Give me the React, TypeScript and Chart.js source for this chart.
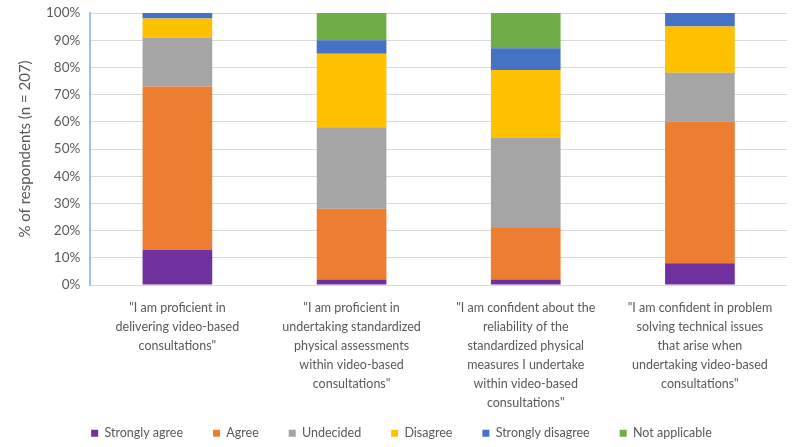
import React, { useEffect, useRef } from "react";
import { Chart, registerables } from "chart.js";

Chart.register(...registerables);

const categories: string[][] = [
  ['"I am proficient in', "delivering video-based", 'consultations"'],
  ['"I am proficient in', "undertaking standardized", "physical assessments", "within video-based", 'consultations"'],
  ['"I am confident about the', "reliability of the", "standardized physical", "measures I undertake", "within video-based", 'consultations"'],
  ['"I am confident in problem', "solving technical issues", "that arise when", "undertaking video-based", 'consultations"'],
];

const seriesNames = ["Strongly agree", "Agree", "Undecided", "Disagree", "Strongly disagree", "Not applicable"];
const stronglyAgree = [13, 2, 2, 8];
const agree = [60, 26, 19, 52];
const undecided = [18, 30, 33, 18];
const disagree = [7, 27, 25, 17];
const stronglyDisagree = [2, 5, 8, 5];
const notApplicable = [0, 10, 13, 0];
const yTicks = [0, 10, 20, 30, 40, 50, 60, 70, 80, 90, 100];

const colors = ["#7030a0", "#ed7d31", "#a5a5a5", "#ffc000", "#4472c4", "#70ad47"];
const FONT = "Lato, sans-serif";

const LEGEND_PAD = 30;
const LEGEND_SPACE = 30;
const LEGEND_SHIFT = 20;

const legendFix = {
  id: "legendFix",
  beforeLayout(chart: any) {
    const lg = chart.legend;
    if (lg && !lg._patched) {
      const orig = lg.fit.bind(lg);
      lg.fit = function () {
        orig();
        this.height = LEGEND_SPACE;
      };
      lg._patched = true;
    }
  },
  afterLayout(chart: any) {
    const lg = chart.legend;
    if (lg) lg.top -= LEGEND_SHIFT;
  },
};

export default function App() {
  const ref = useRef<HTMLCanvasElement | null>(null);
  useEffect(() => {
    document.body.style.margin = "0";
    const values = [stronglyAgree, agree, undecided, disagree, stronglyDisagree, notApplicable];
    const chart = new Chart(ref.current!, {
      type: "bar",
      data: {
        labels: categories,
        datasets: seriesNames.map((n, i) => ({
          label: n,
          data: values[i],
          backgroundColor: colors[i],
          borderWidth: 0,
          categoryPercentage: 1,
          barPercentage: 0.4,
        })),
      },
      plugins: [legendFix],
      options: {
        animation: false,
        responsive: false,
        maintainAspectRatio: false,
        layout: { padding: { left: 16, right: 13, top: 0, bottom: 0 } },
        plugins: {
          tooltip: { enabled: false },
          legend: {
            position: "bottom",
            labels: {
              boxWidth: 7,
              boxHeight: 7,
              padding: LEGEND_PAD,
              color: "#595959",
              font: { family: FONT, size: 12.5 },
            },
          },
        },
        scales: {
          x: {
            stacked: true,
            grid: { display: false },
            border: { display: false },
            ticks: {
              color: "#595959",
              font: { family: FONT, size: 12.5, lineHeight: "19px" },
              maxRotation: 0,
              autoSkip: false,
              padding: 5,
            },
          },
          y: {
            stacked: true,
            min: 0,
            max: 100,
            afterBuildTicks: (axis: any) => {
              axis.ticks = yTicks.map((v) => ({ value: v }));
            },
            afterFit: (scale: any) => {
              scale.paddingTop = 13;
            },
            grid: { color: "#d9d9d9", drawTicks: false },
            border: { display: true, color: "#9dc3e6", width: 2 },
            ticks: {
              color: "#595959",
              font: { family: FONT, size: 13.5 },
              padding: 10,
              callback: (v: any) => v + "%",
            },
            title: {
              display: true,
              text: "% of respondents (n = 207)",
              color: "#595959",
              font: { family: FONT, size: 15 },
              padding: { top: 0, bottom: 2 },
            },
          },
        },
      },
    });
    return () => chart.destroy();
  }, []);
  return (
    <div style={{ width: 800, height: 447 }}>
      <canvas ref={ref} width={800} height={447} />
    </div>
  );
}
